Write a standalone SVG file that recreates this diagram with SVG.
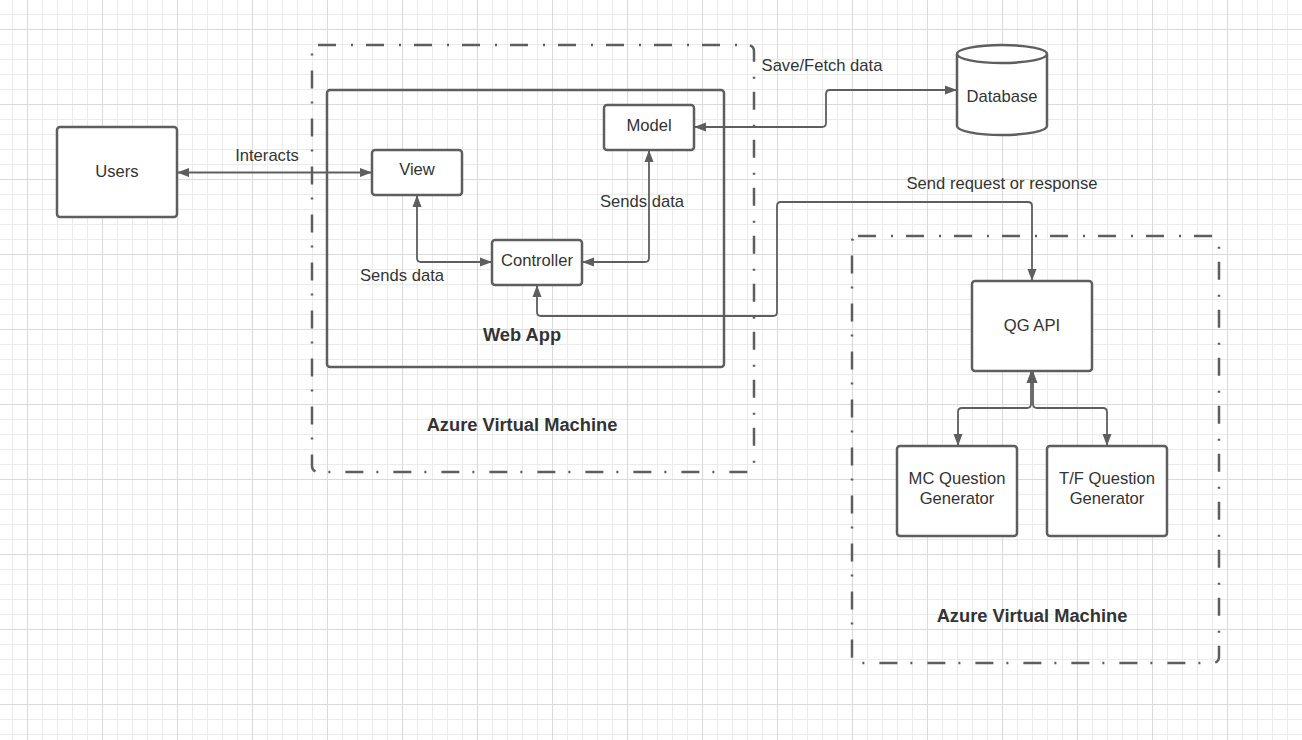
<svg xmlns="http://www.w3.org/2000/svg" width="1302" height="740" viewBox="0 0 1302 740">
<style>
text{font-family:"Liberation Sans",Arial,sans-serif;fill:#333333;font-size:16.6px;text-anchor:middle}
.b{font-weight:bold;font-size:18.3px}
.node{fill:#ffffff;stroke:#5e5e5e;stroke-width:2.5}
.grp{fill:none;stroke:#5e5e5e;stroke-width:2.5}
.vm{fill:none;stroke:#5e5e5e;stroke-width:2.5;stroke-dasharray:18 15 2 13}
.c{fill:none;stroke:#5e5e5e;stroke-width:1.8;marker-start:url(#a);marker-end:url(#a)}
</style>
<defs>
<pattern id="gmin" x="12" y="14" width="15" height="15" patternUnits="userSpaceOnUse"><path d="M0.5,0V15M0,0.5H15" stroke="#ebebeb" stroke-width="1" fill="none"/></pattern>
<pattern id="gmaj" x="27" y="29" width="75" height="75" patternUnits="userSpaceOnUse"><path d="M0.5,0V75M0,0.5H75" stroke="#dadada" stroke-width="1" fill="none"/></pattern>
<marker id="a" markerUnits="userSpaceOnUse" markerWidth="13" markerHeight="10" refX="12" refY="5" orient="auto-start-reverse"><path d="M0,0.5L12,5L0,9.5z" fill="#5e5e5e"/></marker>
</defs>
<rect width="1302" height="740" fill="#ffffff"/>
<rect width="1302" height="740" fill="url(#gmin)"/>
<rect width="1302" height="740" fill="url(#gmaj)"/>

<g id="vm1"><rect class="vm" x="312" y="45" width="442" height="427" rx="6"/><text class="b" x="522" y="431">Azure Virtual Machine</text></g>
<g id="vm2"><rect class="vm" x="852" y="236" width="367" height="427" rx="6"/><text class="b" x="1032" y="622">Azure Virtual Machine</text></g>
<g id="webapp"><rect class="grp" x="327" y="90" width="397" height="277" rx="3"/><text class="b" x="522" y="341">Web App</text></g>

<g id="connectors">
<path class="c" d="M177,172.5H372"/>
<text x="267" y="161">Interacts</text>
<path class="c" d="M417,195V258Q417,262 421,262H492"/>
<text x="402" y="281">Sends data</text>
<path class="c" d="M582,262H645Q649,262 649,258V150"/>
<text x="642" y="207">Sends data</text>
<path class="c" d="M694,127H822Q826,127 826,123V94Q826,90 830,90H957"/>
<text x="822" y="71">Save/Fetch data</text>
<path class="c" d="M537,285V312Q537,316 541,316H773Q777,316 777,312V206Q777,202 781,202H1028Q1032,202 1032,206V281"/>
<text x="1002" y="189">Send request or response</text>
<path class="c" d="M1031,371V404Q1031,408 1027,408H962Q958,408 958,412V446"/>
<path class="c" d="M1033,371V404Q1033,408 1037,408H1103Q1107,408 1107,412V446"/>
</g>

<g id="users"><rect class="node" x="57" y="127" width="120" height="90" rx="3"/><text x="117" y="176.5">Users</text></g>
<g id="view"><rect class="node" x="372" y="150" width="90" height="45" rx="3"/><text x="417" y="175">View</text></g>
<g id="model"><rect class="node" x="604" y="105" width="90" height="45" rx="3"/><text x="649" y="130.7">Model</text></g>
<g id="controller"><rect class="node" x="492" y="240" width="90" height="45" rx="3"/><text x="537" y="265.7">Controller</text></g>
<g id="database">
<path class="node" d="M957,54V126A45,9 0 0 0 1047,126V54"/>
<ellipse class="node" cx="1002" cy="54" rx="45" ry="9"/>
<text x="1002" y="102.4">Database</text>
</g>
<g id="qgapi"><rect class="node" x="972" y="281" width="120" height="90" rx="3"/><text x="1032" y="330.7">QG API</text></g>
<g id="mc"><rect class="node" x="897" y="446" width="120" height="90" rx="3"/><text x="957" y="484.4">MC Question</text><text x="957" y="504.4">Generator</text></g>
<g id="tf"><rect class="node" x="1047" y="446" width="120" height="90" rx="3"/><text x="1107" y="484.4">T/F Question</text><text x="1107" y="504.4">Generator</text></g>
</svg>
